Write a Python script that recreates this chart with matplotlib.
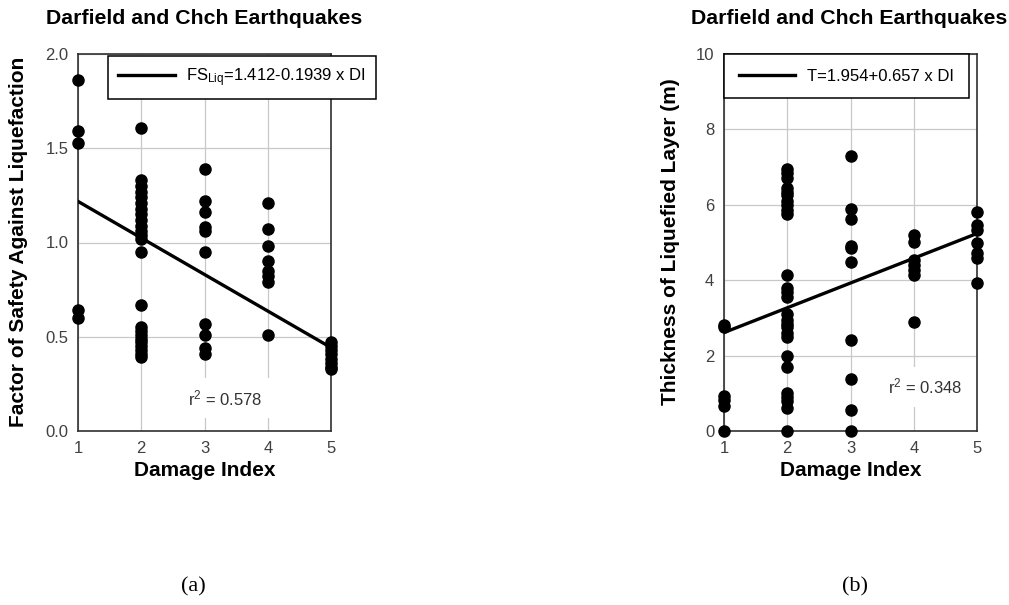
import numpy as np
import matplotlib
matplotlib.use('Agg')
import matplotlib.pyplot as plt

plt.rcParams['font.family'] = ['Liberation Sans', 'DejaVu Sans']
plt.rcParams['mathtext.fontset'] = 'custom'
plt.rcParams['mathtext.rm'] = 'Liberation Sans'
plt.rcParams['mathtext.it'] = 'Liberation Sans'

# ---- data ----
damage_index = [1, 2, 3, 4, 5]

# (a) factor of safety against liquefaction
fs_di1 = [1.86, 1.59, 1.53, 0.64, 0.60]
fs_di2 = [1.61, 1.33, 1.30, 1.27, 1.24, 1.21, 1.18, 1.15, 1.12, 1.09, 1.06, 1.04, 1.02,
          0.95, 0.67, 0.55, 0.53, 0.51, 0.49, 0.47, 0.45, 0.43, 0.41, 0.39]
fs_di3 = [1.39, 1.22, 1.16, 1.08, 1.06, 0.95, 0.57, 0.51, 0.44, 0.41]
fs_di4 = [1.21, 1.07, 0.98, 0.90, 0.85, 0.82, 0.79, 0.51]
fs_di5 = [0.47, 0.45, 0.43, 0.41, 0.38, 0.36, 0.34, 0.33]
fs_a, fs_b = 1.412, -0.1939
fs_r2 = 0.578

# (b) thickness of liquefied layer (m)
t_di1 = [2.80, 2.75, 0.93, 0.82, 0.66, 0.0]
t_di2 = [6.95, 6.85, 6.70, 6.45, 6.35, 6.25, 6.10, 6.00, 5.85, 5.75, 4.15, 3.80, 3.70,
         3.55, 3.10, 2.95, 2.85, 2.75, 2.60, 2.50, 2.00, 1.70, 1.00, 0.90, 0.80, 0.60, 0.0]
t_di3 = [7.30, 5.90, 5.62, 4.90, 4.85, 4.48, 2.41, 1.37, 0.55, 0.0]
t_di4 = [5.20, 5.01, 4.54, 4.40, 4.27, 4.14, 2.90]
t_di5 = [5.81, 5.46, 5.33, 4.99, 4.72, 4.59, 3.93]
t_a, t_b = 1.954, 0.657
t_r2 = 0.348

W, H = 1009, 605
fig = plt.figure(figsize=(W / 100, H / 100), dpi=100)


def px_axes(x0, x1, y_top, y_bot):
    return fig.add_axes([x0 / W, 1 - y_bot / H, (x1 - x0) / W, (y_bot - y_top) / H])


def draw_panel(ax, groups, a, b, ylim, yticks, yticklabels, leg_label, leg_box, bpad,
               r2_txt, r2_pos):
    for k, vals in zip(damage_index, groups):
        ax.plot(np.full(len(vals), k), vals, 'o', color='black', ms=8,
                clip_on=False, zorder=4)
    xf = np.array([damage_index[0], damage_index[-1]])
    ax.plot(xf, a + b * xf, '-', color='black', lw=2.4, label=leg_label, zorder=3)
    ax.set_xlim(1, 5)
    ax.set_ylim(*ylim)
    ax.set_xticks(damage_index)
    ax.set_yticks(yticks)
    ax.set_yticklabels(yticklabels)
    ax.grid(True, color='#c8c8c8', lw=0.9)
    ax.set_axisbelow(True)
    ax.tick_params(length=0, labelsize=12, labelcolor='#404040', pad=7)
    for s in ax.spines.values():
        s.set_color('#303030')
        s.set_linewidth(1.2)
    leg = ax.legend(loc='upper left', bbox_to_anchor=(leg_box[0] / W, 1 - leg_box[1] / H),
                    bbox_transform=fig.transFigure, fontsize=12, frameon=True,
                    fancybox=False, edgecolor='black', framealpha=1, borderpad=bpad,
                    handlelength=3.4, handletextpad=0.7, borderaxespad=0)
    leg.get_frame().set_linewidth(1.1)
    ax.text(r2_pos[0], r2_pos[1], r2_txt, fontsize=12, color='#333333', ha='center',
            va='center', zorder=2,
            bbox=dict(facecolor='white', edgecolor='none', pad=7))
    ax.set_xlabel('Damage Index', fontsize=15, fontweight='bold', labelpad=4)


axa = px_axes(78, 331, 54, 431)
draw_panel(axa, [fs_di1, fs_di2, fs_di3, fs_di4, fs_di5], fs_a, fs_b, (0, 2.0),
           [0, 0.5, 1.0, 1.5, 2.0], ['0.0', '0.5', '1.0', '1.5', '2.0'],
           r'FS$_{\mathrm{Liq}}$=1.412-0.1939 x DI', (108, 56), 0.6,
           r'r$^2$ = %.3f' % fs_r2, (3.32, 0.175))

axb = px_axes(724, 977, 54, 431)
draw_panel(axb, [t_di1, t_di2, t_di3, t_di4, t_di5], t_a, t_b, (0, 10),
           [0, 2, 4, 6, 8, 10], ['0', '2', '4', '6', '8', '10'],
           'T=1.954+0.657 x DI', (724, 54), 0.88,
           r'r$^2$ = %.3f' % t_r2, (4.18, 1.17))

fig.text(19 / W, 1 - 242 / H, 'Factor of Safety Against Liquefaction', rotation=90,
         fontsize=15, fontweight='bold', ha='center', va='center')
fig.text(671 / W, 1 - 242 / H, 'Thickness of Liquefied Layer (m)', rotation=90,
         fontsize=15, fontweight='bold', ha='center', va='center')

fig.text(204 / W, 1 - 19 / H, 'Darfield and Chch Earthquakes', fontsize=15.3,
         fontweight='bold', ha='center', va='center')
fig.text(849 / W, 1 - 19 / H, 'Darfield and Chch Earthquakes', fontsize=15.3,
         fontweight='bold', ha='center', va='center')

fig.text(193 / W, 1 - 587 / H, '(a)', family='Liberation Serif', fontsize=16,
         ha='center', va='center')
fig.text(855 / W, 1 - 587 / H, '(b)', family='Liberation Serif', fontsize=16,
         ha='center', va='center')

fig.savefig('out.png', dpi=100)
